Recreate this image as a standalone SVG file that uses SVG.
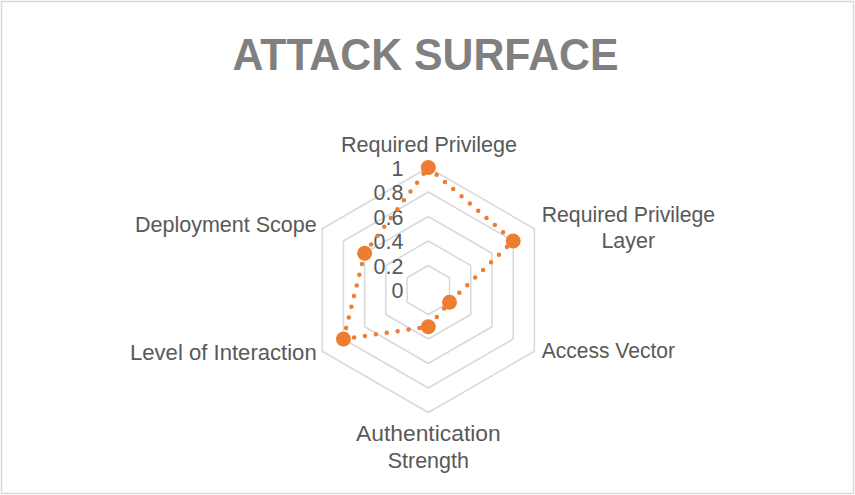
<svg xmlns="http://www.w3.org/2000/svg" width="855" height="495" viewBox="0 0 855 495">
  <style>
    .frame { fill: #ffffff; stroke: #d9d9d9; stroke-width: 1.5; }
    .title { font-family: "Liberation Sans", Arial, sans-serif; font-weight: bold; font-size: 44px; fill: #808080; }
    .grid { fill: none; stroke: #d9d9d9; stroke-width: 1.5; stroke-linejoin: round; }
    .tick { font-family: "Liberation Sans", Arial, sans-serif; font-size: 21.5px; fill: #595959; text-anchor: end; }
    .axis { font-family: "Liberation Sans", Arial, sans-serif; font-size: 21.5px; fill: #595959; }
    .series { fill: none; stroke: #ed7d31; stroke-width: 4.5; stroke-linecap: round; stroke-linejoin: round; stroke-dasharray: 0 11; }
    .marker { fill: #ed7d31; }
  </style>

  <!-- chart area -->
  <rect class="frame" x="1.5" y="1.5" width="852" height="492"/>

  <text class="title" x="232.5" y="70" textLength="386" lengthAdjust="spacingAndGlyphs">ATTACK SURFACE</text>

  <!-- hexagonal grid rings at 0.2 .. 1.0 (centre 428.3,290 ; radius 122.5) -->
  <g id="grid">
    <polygon class="grid" points="428.3,265.5 449.52,277.75 449.52,302.25 428.3,314.5 407.08,302.25 407.08,277.75"/>
    <polygon class="grid" points="428.3,241 470.74,265.5 470.74,314.5 428.3,339 385.86,314.5 385.86,265.5"/>
    <polygon class="grid" points="428.3,216.5 491.95,253.25 491.95,326.75 428.3,363.5 364.65,326.75 364.65,253.25"/>
    <polygon class="grid" points="428.3,192 513.17,241 513.17,339 428.3,388 343.43,339 343.43,241"/>
    <polygon class="grid" points="428.3,167.5 534.39,228.75 534.39,351.25 428.3,412.5 322.21,351.25 322.21,228.75"/>
  </g>

  <!-- value scale -->
  <g id="scale">
    <text class="tick" x="403.5" y="175.5">1</text>
    <text class="tick" x="403.5" y="200">0.8</text>
    <text class="tick" x="403.5" y="224.5">0.6</text>
    <text class="tick" x="403.5" y="249">0.4</text>
    <text class="tick" x="403.5" y="273.5">0.2</text>
    <text class="tick" x="403.5" y="298">0</text>
  </g>

  <!-- axis categories -->
  <g id="axis-required-privilege">
    <text class="axis" x="341" y="152" textLength="176" lengthAdjust="spacingAndGlyphs">Required Privilege</text>
  </g>
  <g id="axis-required-privilege-layer">
    <text class="axis" x="541.7" y="221.5" textLength="173.5" lengthAdjust="spacingAndGlyphs">Required Privilege</text>
    <text class="axis" x="628.3" y="247.5" text-anchor="middle">Layer</text>
  </g>
  <g id="axis-access-vector">
    <text class="axis" x="541.7" y="358.3" textLength="133.3" lengthAdjust="spacingAndGlyphs">Access Vector</text>
  </g>
  <g id="axis-authentication-strength">
    <text class="axis" x="356" y="441" textLength="144.7" lengthAdjust="spacingAndGlyphs">Authentication</text>
    <text class="axis" x="428.3" y="468" text-anchor="middle">Strength</text>
  </g>
  <g id="axis-level-of-interaction">
    <text class="axis" x="130" y="360" textLength="186.7" lengthAdjust="spacingAndGlyphs">Level of Interaction</text>
  </g>
  <g id="axis-deployment-scope">
    <text class="axis" x="135" y="232.3" textLength="181.7" lengthAdjust="spacingAndGlyphs">Deployment Scope</text>
  </g>

  <!-- data series -->
  <g id="connectors">
    <polygon class="series" points="428.3,167.5 513.17,241 449.52,302.25 428.3,326.75 343.43,339 364.65,253.25"/>
  </g>
  <g id="markers">
    <circle class="marker" cx="428.3" cy="167.5" r="7.5"/>
    <circle class="marker" cx="513.17" cy="241" r="7.5"/>
    <circle class="marker" cx="449.52" cy="302.25" r="7.5"/>
    <circle class="marker" cx="428.3" cy="326.75" r="7.5"/>
    <circle class="marker" cx="343.43" cy="339" r="7.5"/>
    <circle class="marker" cx="364.65" cy="253.25" r="7.5"/>
  </g>
</svg>
